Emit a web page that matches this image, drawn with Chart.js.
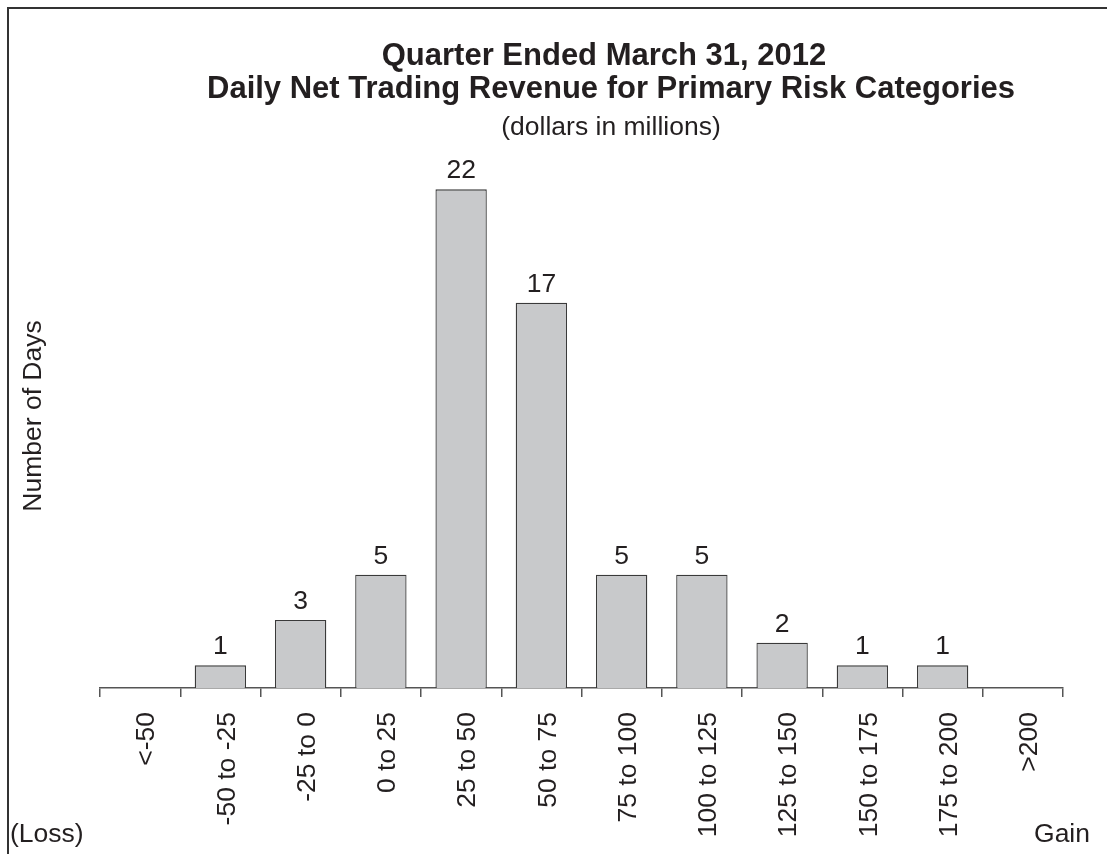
<!DOCTYPE html>
<html>
<head>
<meta charset="utf-8">
<script src="https://cdn.jsdelivr.net/npm/chart.js@4/dist/chart.umd.min.js"></script>
<style>
  html, body { margin: 0; padding: 0; background: #fff; }
  #wrap { width: 1107px; height: 854px; }
</style>
</head>
<body>
<div id="wrap"><canvas id="grafico" width="1107" height="854"></canvas></div>
<script>
const rangos = ['<-50', '-50 to -25', '-25 to 0', '0 to 25', '25 to 50', '50 to 75',
    '75 to 100', '100 to 125', '125 to 150', '150 to 175', '175 to 200', '>200'];
const dias = [0, 1, 3, 5, 22, 17, 5, 5, 2, 1, 1, 0];

const titulo1 = 'Quarter Ended March 31, 2012';
const titulo2 = 'Daily Net Trading Revenue for Primary Risk Categories';
const subtitulo = '(dollars in millions)';
const textoY = 'Number of Days';
const textoPerdida = '(Loss)';
const textoGanancia = 'Gain';

const fuente = '"Liberation Sans", Arial, Helvetica, sans-serif';
const tinta = '#231f20';

// textos, marco y valores encima de las barras
const extras = {
    id: 'extras',
    beforeDraw(chart) {
        const ctx = chart.ctx;
        ctx.save();
        ctx.strokeStyle = '#333';
        ctx.lineWidth = 2;
        ctx.strokeRect(8, 8, 1300, 1000);
        ctx.restore();
    },
    afterDraw(chart) {
        const ctx = chart.ctx;
        ctx.save();
        ctx.fillStyle = tinta;
        ctx.textAlign = 'center';
        ctx.textBaseline = 'middle';
        ctx.font = 'bold 31px ' + fuente;
        ctx.fillText(titulo1, 604, 56);
        ctx.fillText(titulo2, 611, 89);
        ctx.font = '26.5px ' + fuente;
        ctx.fillText(subtitulo, 611, 128);

        ctx.textAlign = 'left';
        ctx.textBaseline = 'alphabetic';
        ctx.fillText(textoPerdida, 10, 842);
        ctx.textAlign = 'right';
        ctx.fillText(textoGanancia, 1090, 842);

        // valores
        ctx.textAlign = 'center';
        ctx.textBaseline = 'bottom';
        const meta = chart.getDatasetMeta(0);
        meta.data.forEach((barra, i) => {
            if (!dias[i]) return;
            ctx.fillText(String(dias[i]), barra.x, barra.y - 5);
        });
        ctx.restore();
    }
};

const ctxGrafico = document.getElementById('grafico').getContext('2d');
const grafico = new Chart(ctxGrafico, {
    type: 'bar',
    data: {
        labels: rangos,
        datasets: [{
            label: 'Number of Days',
            data: dias,
            backgroundColor: '#c8c9cb',
            borderColor: '#3a3a3a',
            borderWidth: 1.3,
            borderSkipped: 'bottom',
            categoryPercentage: 1,
            barPercentage: 0.64
        }]
    },
    options: {
        responsive: false,
        animation: false,
        layout: { padding: { top: 144, right: 44, bottom: 0, left: 0 } },
        plugins: {
            legend: { display: false },
            tooltip: { enabled: false }
        },
        scales: {
            x: {
                offset: true,
                grid: {
                    display: true,
                    drawOnChartArea: false,
                    offset: true,
                    tickLength: 9,
                    color: '#555',
                    lineWidth: 1.5
                },
                border: { display: true, color: '#555', width: 1.5 },
                ticks: {
                    minRotation: 90,
                    maxRotation: 90,
                    autoSkip: false,
                    padding: 15,
                    labelOffset: 7,
                    color: tinta,
                    font: { family: fuente, size: 26.5 }
                },
                afterFit: (escala) => { escala.height = 166; }
            },
            y: {
                min: 0,
                max: 24,
                grid: { display: false },
                border: { display: false },
                ticks: { display: false },
                title: {
                    display: true,
                    text: textoY,
                    color: tinta,
                    padding: { top: 18, bottom: 0 },
                    font: { family: fuente, size: 26.5 }
                },
                afterFit: (escala) => { escala.width = 100; }
            }
        }
    },
    plugins: [extras]
});
</script>
</body>
</html>
